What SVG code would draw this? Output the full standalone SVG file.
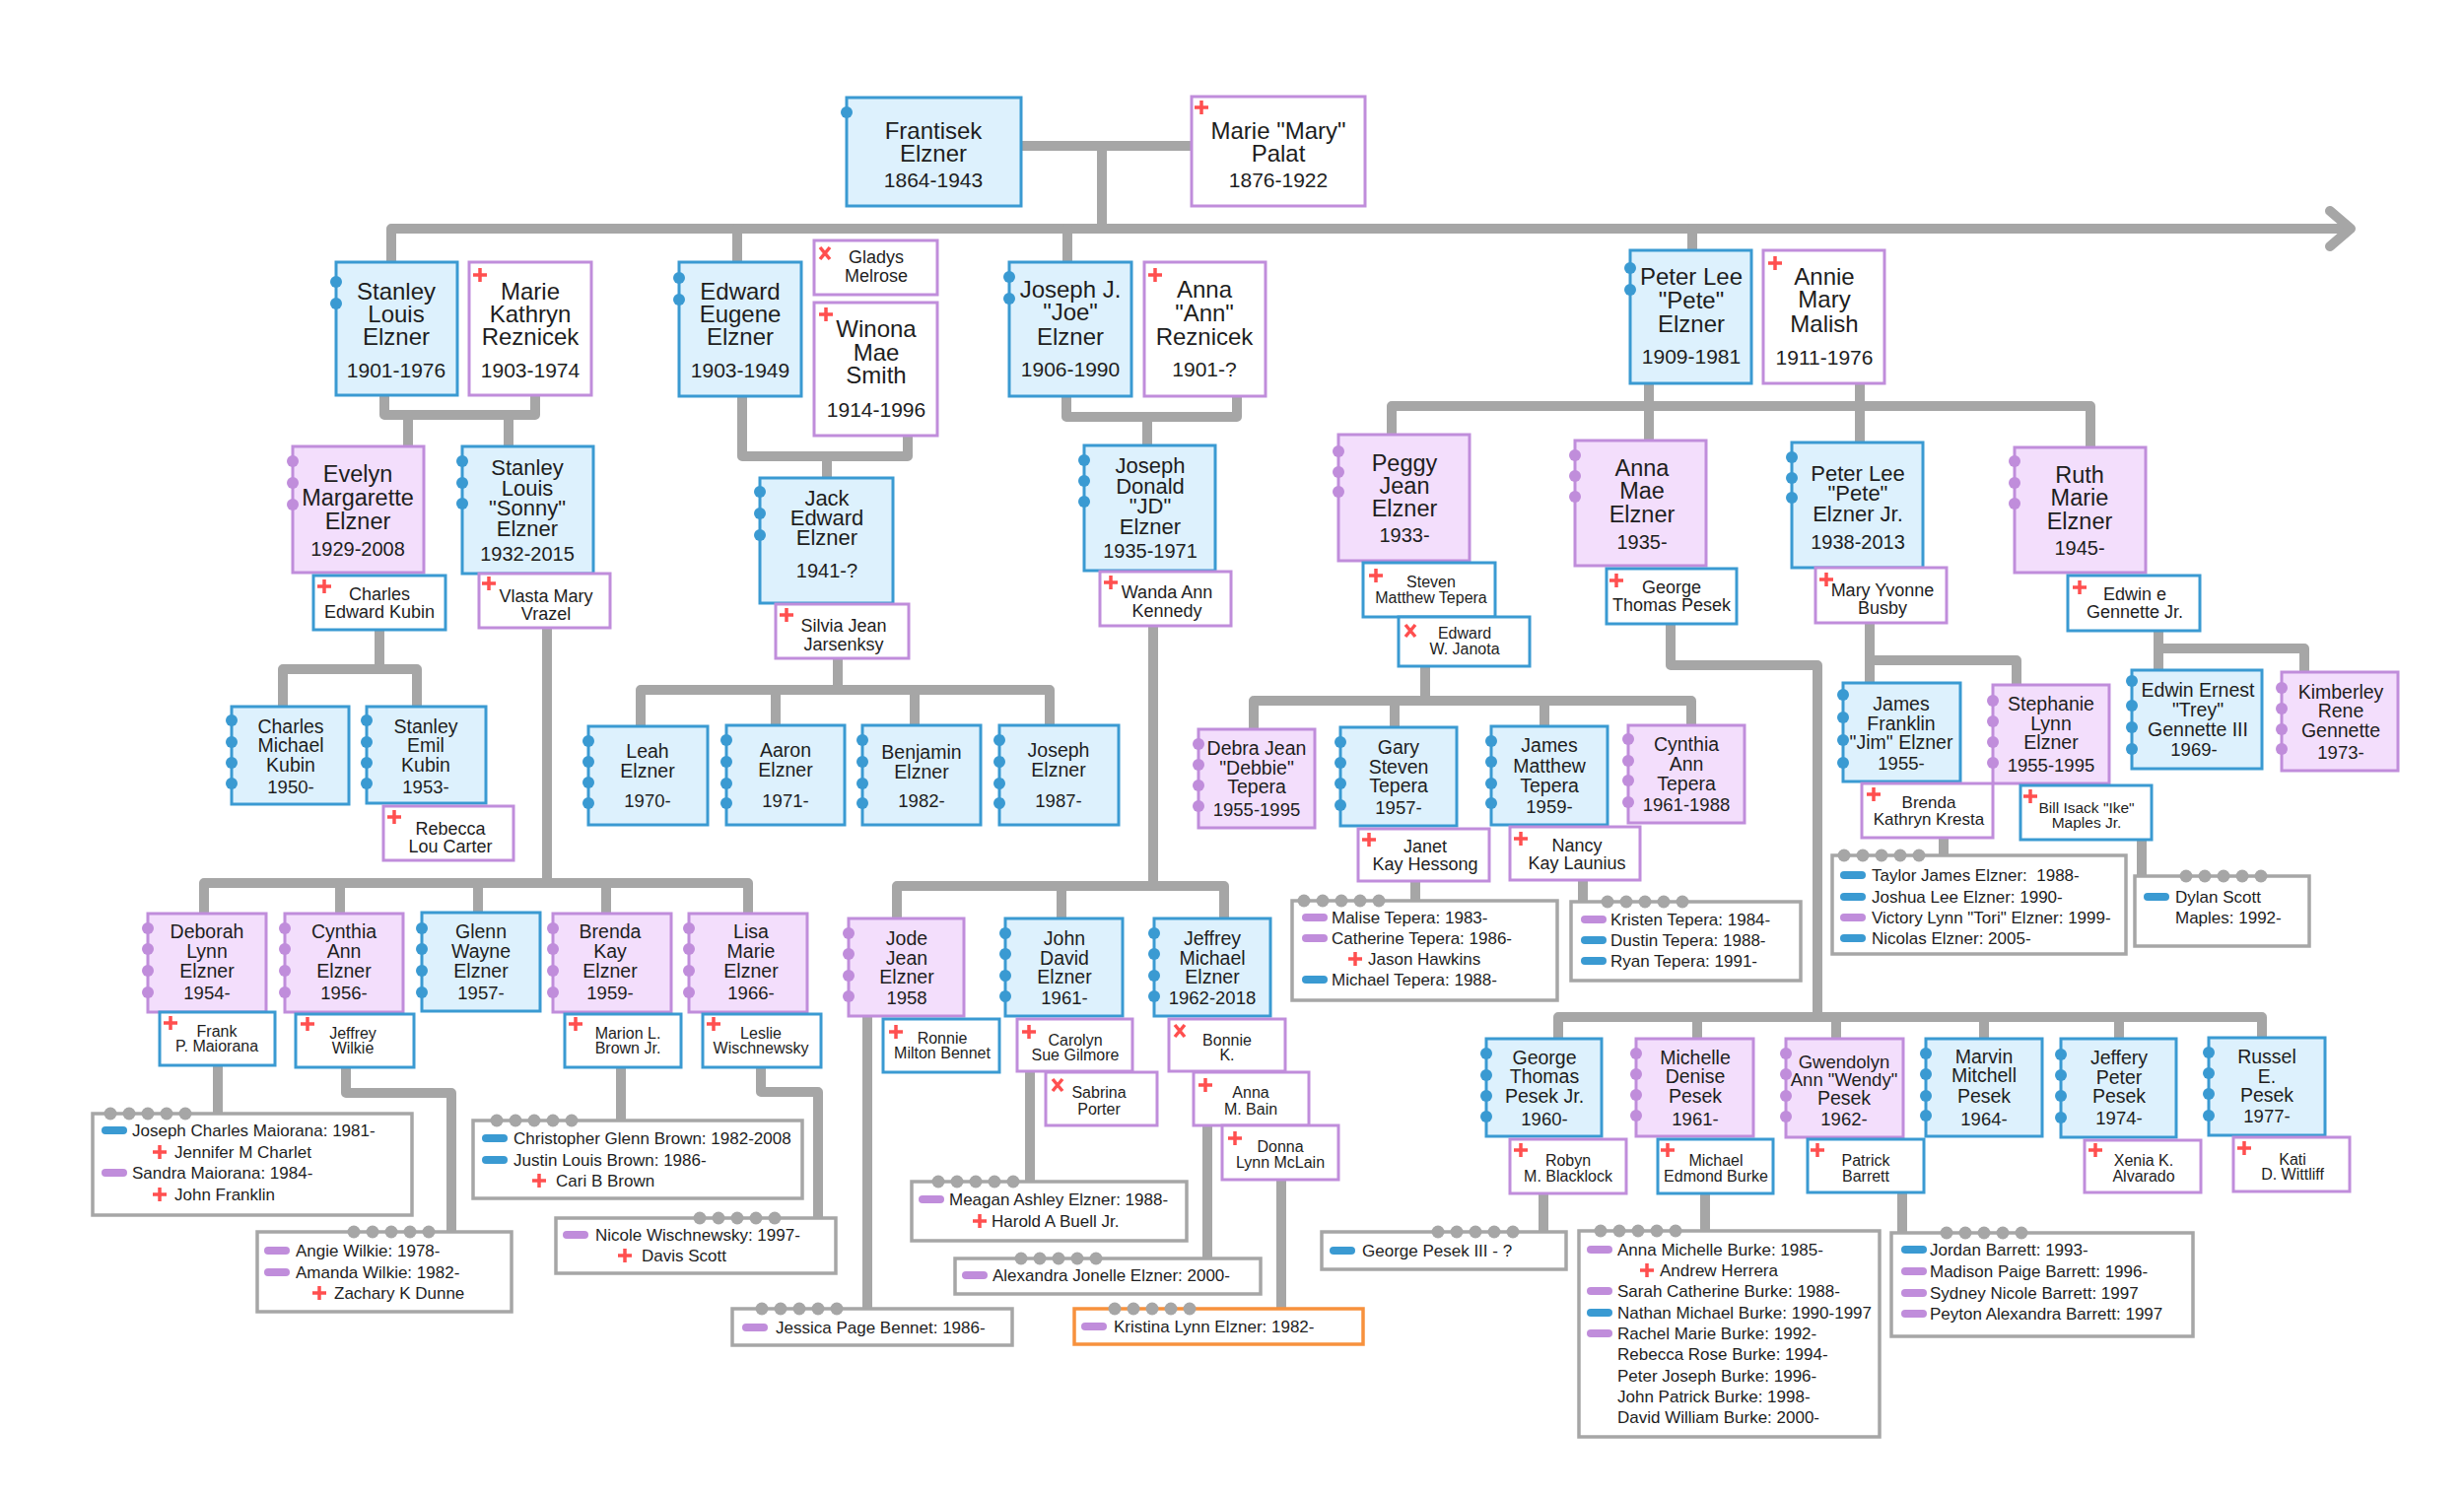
<svg xmlns="http://www.w3.org/2000/svg" width="2500" height="1517" viewBox="0 0 2500 1517">
<defs>
<style>
.m{fill:#ddf1fd;stroke:#3a9ad2;stroke-width:3}
.f{fill:#f3defc;stroke:#c08ddb;stroke-width:3}
.sm{fill:#fff;stroke:#3a9ad2;stroke-width:3}
.sf{fill:#fff;stroke:#c08ddb;stroke-width:3}
.lb{fill:#fff;stroke:#a6a6a6;stroke-width:3.5}
.lo{fill:#fff;stroke:#f7913d;stroke-width:3.5}
.db{fill:#3a9ad2}.dp{fill:#c08ddb}.dg{fill:#a6a6a6}
text{font-family:"Liberation Sans",Arial,sans-serif;fill:#1e1e1e}
.c{text-anchor:middle}
.a{font-size:24px}.ay{font-size:21px}
.b{font-size:23.5px}.b2{font-size:22px}.by{font-size:20px}
.d{font-size:19.5px}.dy{font-size:18.5px}.dg2{font-size:18.5px}
.s18{font-size:18px}.s17{font-size:17px}.s16{font-size:16px}.s15{font-size:15.5px}
.l{font-size:17px}
#conn path,#conn polyline{fill:none;stroke:#a6a6a6;stroke-width:10;stroke-linecap:round;stroke-linejoin:round}
</style>
<path id="pl" d="M-7,0H7M0,-7V7" stroke="#ff4f4f" stroke-width="3.5" fill="none"/>
<path id="xx" d="M-5,-6L5,6M5,-6L-5,6" stroke="#ff4f4f" stroke-width="3.5" fill="none"/>
<rect id="pb" width="26" height="8" rx="4" fill="#3a9ad2"/>
<rect id="pp" width="26" height="8" rx="4" fill="#c08ddb"/>
<g id="g5"><circle cx="0" cy="0" r="6.5" fill="#a6a6a6"/><circle cx="19" cy="0" r="6.5" fill="#a6a6a6"/><circle cx="38" cy="0" r="6.5" fill="#a6a6a6"/><circle cx="57" cy="0" r="6.5" fill="#a6a6a6"/><circle cx="76" cy="0" r="6.5" fill="#a6a6a6"/></g>
</defs>
<rect width="2500" height="1517" fill="#fff"/>

<g id="conn">
<path d="M1035,148H1209M1118,148V232"/>
<path d="M397,266V232H2383"/>
<polyline points="2364,214 2385,232 2364,250"/>
<path d="M748,232V266M1083,232V266M1717,232V254"/>
<path d="M390,401V421H543V401M414,421V453M516,421V453"/>
<path d="M753,402V463H921V442M839,463V484"/>
<path d="M1082,402V423H1255V402M1164,423V452"/>
<path d="M1412,441V412H2121V454M1673,389V447M1887,389V449"/>
<path d="M385,640V679M287,717V679H423V717"/>
<path d="M555,637V896M207,927V896H759V927M345,896V927M485,896V927M615,896V927"/>
<path d="M850,668V700M650,737V700H1065V736M787,700V736M928,700V736"/>
<path d="M1170,635V899M910,932V899H1242V932M1077,899V932"/>
<path d="M1446,676V711M1272,740V711H1716V736M1415,711V738M1567,711V737"/>
<path d="M1695,633V675H1844V1032M1581,1054V1032H2295V1053M1722,1032V1054M1863,1032V1054M2013,1032V1054M2150,1032V1054"/>
<path d="M1897,632V693M1897,670H2046V695"/>
<path d="M2190,640V680M2190,658H2338V682"/>
<path d="M221,1081V1130"/>
<path d="M351,1083V1109H458V1250"/>
<path d="M630,1083V1137"/>
<path d="M772,1083V1108H830V1236"/>
<path d="M880,1031V1328"/>
<path d="M1045,1087V1199"/>
<path d="M1225,1142V1277"/>
<path d="M1300,1197V1328"/>
<path d="M1436,894V914"/>
<path d="M1606,893V915"/>
<path d="M1972,850V868"/>
<path d="M2173,852V889"/>
<path d="M1566,1211V1250"/>
<path d="M1730,1211V1249"/>
<path d="M1930,1210V1251"/>
</g>

<!-- Generation 0 -->
<g id="frantisek"><rect class="m" x="859" y="99" width="177" height="110"/><circle class="db" cx="859" cy="114" r="6"/><text class="c a"><tspan x="947" y="141">Frantisek</tspan><tspan x="947" y="164">Elzner</tspan><tspan class="ay" x="947" y="190">1864-1943</tspan></text></g>
<g id="marie-palat"><rect class="sf" x="1209" y="98" width="176" height="111"/><use href="#pl" x="1219" y="109"/><text class="c a"><tspan x="1297" y="141">Marie "Mary"</tspan><tspan x="1297" y="164">Palat</tspan><tspan class="ay" x="1297" y="190">1876-1922</tspan></text></g>

<!-- Generation 1 -->
<g id="stanley"><rect class="m" x="341" y="266" width="123" height="135"/><circle class="db" cx="341" cy="286" r="6"/><circle class="db" cx="341" cy="308" r="6"/><text class="c a"><tspan x="402" y="304">Stanley</tspan><tspan x="402" y="327">Louis</tspan><tspan x="402" y="350">Elzner</tspan><tspan class="ay" x="402" y="383">1901-1976</tspan></text></g>
<g id="marie-kathryn"><rect class="sf" x="476" y="266" width="124" height="135"/><use href="#pl" x="487" y="279"/><text class="c a"><tspan x="538" y="304">Marie</tspan><tspan x="538" y="327">Kathryn</tspan><tspan x="538" y="350">Reznicek</tspan><tspan class="ay" x="538" y="383">1903-1974</tspan></text></g>
<g id="edward"><rect class="m" x="689" y="266" width="124" height="136"/><circle class="db" cx="689" cy="282" r="6"/><circle class="db" cx="689" cy="304" r="6"/><text class="c a"><tspan x="751" y="304">Edward</tspan><tspan x="751" y="327">Eugene</tspan><tspan x="751" y="350">Elzner</tspan><tspan class="ay" x="751" y="383">1903-1949</tspan></text></g>
<g id="gladys"><rect class="sf" x="826" y="244" width="125" height="55"/><use href="#xx" x="837" y="257"/><text class="c s18"><tspan x="889" y="267">Gladys</tspan><tspan x="889" y="286">Melrose</tspan></text></g>
<g id="winona"><rect class="sf" x="826" y="307" width="125" height="135"/><use href="#pl" x="838" y="319"/><text class="c a"><tspan x="889" y="342">Winona</tspan><tspan x="889" y="366">Mae</tspan><tspan x="889" y="389">Smith</tspan><tspan class="ay" x="889" y="423">1914-1996</tspan></text></g>
<g id="joe"><rect class="m" x="1024" y="266" width="124" height="136"/><circle class="db" cx="1024" cy="281" r="6"/><circle class="db" cx="1024" cy="303" r="6"/><text class="c a"><tspan x="1086" y="302">Joseph J.</tspan><tspan x="1086" y="325">"Joe"</tspan><tspan x="1086" y="350">Elzner</tspan><tspan class="ay" x="1086" y="382">1906-1990</tspan></text></g>
<g id="anna-ann"><rect class="sf" x="1161" y="266" width="123" height="136"/><use href="#pl" x="1172" y="279"/><text class="c a"><tspan x="1222" y="302">Anna</tspan><tspan x="1222" y="326">"Ann"</tspan><tspan x="1222" y="350">Reznicek</tspan><tspan class="ay" x="1222" y="382">1901-?</tspan></text></g>
<g id="peter"><rect class="m" x="1654" y="254" width="123" height="135"/><circle class="db" cx="1654" cy="272" r="6"/><circle class="db" cx="1654" cy="294" r="6"/><text class="c a"><tspan x="1716" y="289">Peter Lee</tspan><tspan x="1716" y="313">"Pete"</tspan><tspan x="1716" y="337">Elzner</tspan><tspan class="ay" x="1716" y="369">1909-1981</tspan></text></g>
<g id="annie"><rect class="sf" x="1789" y="254" width="123" height="135"/><use href="#pl" x="1801" y="267"/><text class="c a"><tspan x="1851" y="289">Annie</tspan><tspan x="1851" y="312">Mary</tspan><tspan x="1851" y="337">Malish</tspan><tspan class="ay" x="1851" y="370">1911-1976</tspan></text></g>

<!-- Generation 2 -->
<g id="evelyn"><rect class="f" x="297" y="453" width="133" height="128"/><circle class="dp" cx="297" cy="468" r="6"/><circle class="dp" cx="297" cy="490" r="6"/><circle class="dp" cx="297" cy="512" r="6"/><text class="c b"><tspan x="363" y="489">Evelyn</tspan><tspan x="363" y="513">Margarette</tspan><tspan x="363" y="537">Elzner</tspan><tspan class="by" x="363" y="564">1929-2008</tspan></text></g>
<g id="sonny"><rect class="m" x="469" y="453" width="133" height="129"/><circle class="db" cx="469" cy="468" r="6"/><circle class="db" cx="469" cy="490" r="6"/><circle class="db" cx="469" cy="511" r="6"/><text class="c b2"><tspan x="535" y="482">Stanley</tspan><tspan x="535" y="503">Louis</tspan><tspan x="535" y="523">"Sonny"</tspan><tspan x="535" y="544">Elzner</tspan><tspan class="by" x="535" y="569">1932-2015</tspan></text></g>
<g id="charles-ek"><rect class="sm" x="318" y="584" width="134" height="55"/><use href="#pl" x="329" y="595"/><text class="c s18"><tspan x="385" y="609">Charles</tspan><tspan x="385" y="627">Edward Kubin</tspan></text></g>
<g id="vlasta"><rect class="sf" x="486" y="582" width="133" height="55"/><use href="#pl" x="496" y="592"/><text class="c s18"><tspan x="554" y="611">Vlasta Mary</tspan><tspan x="554" y="629">Vrazel</tspan></text></g>
<g id="jack"><rect class="m" x="771" y="485" width="135" height="127"/><circle class="db" cx="771" cy="499" r="6"/><circle class="db" cx="771" cy="521" r="6"/><circle class="db" cx="771" cy="543" r="6"/><text class="c b2"><tspan x="839" y="513">Jack</tspan><tspan x="839" y="533">Edward</tspan><tspan x="839" y="553">Elzner</tspan><tspan class="by" x="839" y="586">1941-?</tspan></text></g>
<g id="silvia"><rect class="sf" x="787" y="613" width="135" height="55"/><use href="#pl" x="798" y="624"/><text class="c s18"><tspan x="856" y="641">Silvia Jean</tspan><tspan x="856" y="660">Jarsenksy</tspan></text></g>
<g id="jd"><rect class="m" x="1100" y="452" width="133" height="127"/><circle class="db" cx="1100" cy="467" r="6"/><circle class="db" cx="1100" cy="488" r="6"/><circle class="db" cx="1100" cy="509" r="6"/><text class="c b2"><tspan x="1167" y="480">Joseph</tspan><tspan x="1167" y="501">Donald</tspan><tspan x="1167" y="521">"JD"</tspan><tspan x="1167" y="542">Elzner</tspan><tspan class="by" x="1167" y="566">1935-1971</tspan></text></g>
<g id="wanda"><rect class="sf" x="1116" y="580" width="133" height="55"/><use href="#pl" x="1127" y="591"/><text class="c s18"><tspan x="1184" y="607">Wanda Ann</tspan><tspan x="1184" y="626">Kennedy</tspan></text></g>
<g id="peggy"><rect class="f" x="1358" y="441" width="133" height="128"/><circle class="dp" cx="1358" cy="458" r="6"/><circle class="dp" cx="1358" cy="479" r="6"/><circle class="dp" cx="1358" cy="499" r="6"/><text class="c b"><tspan x="1425" y="478">Peggy</tspan><tspan x="1425" y="501">Jean</tspan><tspan x="1425" y="524">Elzner</tspan><tspan class="by" x="1425" y="550">1933-</tspan></text></g>
<g id="steven"><rect class="sm" x="1383" y="571" width="134" height="55"/><use href="#pl" x="1396" y="584"/><text class="c s16"><tspan x="1452" y="596">Steven</tspan><tspan x="1452" y="612">Matthew Tepera</tspan></text></g>
<g id="janota"><rect class="sm" x="1419" y="626" width="133" height="50"/><use href="#xx" x="1431" y="640"/><text class="c s16"><tspan x="1486" y="648">Edward</tspan><tspan x="1486" y="664">W. Janota</tspan></text></g>
<g id="annamae"><rect class="f" x="1598" y="447" width="133" height="127"/><circle class="dp" cx="1598" cy="462" r="6"/><circle class="dp" cx="1598" cy="483" r="6"/><circle class="dp" cx="1598" cy="504" r="6"/><text class="c b"><tspan x="1666" y="483">Anna</tspan><tspan x="1666" y="506">Mae</tspan><tspan x="1666" y="530">Elzner</tspan><tspan class="by" x="1666" y="557">1935-</tspan></text></g>
<g id="george-tp"><rect class="sm" x="1630" y="577" width="132" height="56"/><use href="#pl" x="1640" y="589"/><text class="c s18"><tspan x="1696" y="602">George</tspan><tspan x="1696" y="620">Thomas Pesek</tspan></text></g>
<g id="peterjr"><rect class="m" x="1818" y="449" width="133" height="127"/><circle class="db" cx="1818" cy="464" r="6"/><circle class="db" cx="1818" cy="485" r="6"/><circle class="db" cx="1818" cy="505" r="6"/><text class="c b2"><tspan x="1885" y="488">Peter Lee</tspan><tspan x="1885" y="508">"Pete"</tspan><tspan x="1885" y="529">Elzner Jr.</tspan><tspan class="by" x="1885" y="557">1938-2013</tspan></text></g>
<g id="busby"><rect class="sf" x="1842" y="576" width="133" height="56"/><use href="#pl" x="1853" y="588"/><text class="c s18"><tspan x="1910" y="605">Mary Yvonne</tspan><tspan x="1910" y="623">Busby</tspan></text></g>
<g id="ruth"><rect class="f" x="2044" y="454" width="133" height="127"/><circle class="dp" cx="2044" cy="468" r="6"/><circle class="dp" cx="2044" cy="490" r="6"/><circle class="dp" cx="2044" cy="511" r="6"/><text class="c b"><tspan x="2110" y="490">Ruth</tspan><tspan x="2110" y="513">Marie</tspan><tspan x="2110" y="537">Elzner</tspan><tspan class="by" x="2110" y="563">1945-</tspan></text></g>
<g id="gennette-jr"><rect class="sm" x="2098" y="584" width="134" height="56"/><use href="#pl" x="2110" y="596"/><text class="c s18"><tspan x="2166" y="609">Edwin e</tspan><tspan x="2166" y="627">Gennette Jr.</tspan></text></g>

<!-- Generation 3 -->
<g id="charles-mk"><rect class="m" x="235" y="717" width="119" height="99"/><circle class="db" cx="235" cy="731" r="6"/><circle class="db" cx="235" cy="753" r="6"/><circle class="db" cx="235" cy="774" r="6"/><circle class="db" cx="235" cy="795" r="6"/><text class="c d"><tspan x="295" y="744">Charles</tspan><tspan x="295" y="763">Michael</tspan><tspan x="295" y="783">Kubin</tspan><tspan class="dy" x="295" y="805">1950-</tspan></text></g>
<g id="stanley-ek"><rect class="m" x="372" y="717" width="121" height="98"/><circle class="db" cx="372" cy="731" r="6"/><circle class="db" cx="372" cy="753" r="6"/><circle class="db" cx="372" cy="774" r="6"/><circle class="db" cx="372" cy="795" r="6"/><text class="c d"><tspan x="432" y="744">Stanley</tspan><tspan x="432" y="763">Emil</tspan><tspan x="432" y="783">Kubin</tspan><tspan class="dy" x="432" y="805">1953-</tspan></text></g>
<g id="rebecca"><rect class="sf" x="389" y="818" width="132" height="55"/><use href="#pl" x="400" y="829"/><text class="c s18"><tspan x="457" y="847">Rebecca</tspan><tspan x="457" y="865">Lou Carter</tspan></text></g>
<g id="leah"><rect class="m" x="597" y="737" width="121" height="100"/><circle class="db" cx="597" cy="752" r="6"/><circle class="db" cx="597" cy="773" r="6"/><circle class="db" cx="597" cy="794" r="6"/><circle class="db" cx="597" cy="815" r="6"/><text class="c d"><tspan x="657" y="769">Leah</tspan><tspan x="657" y="789">Elzner</tspan><tspan class="dy" x="657" y="819">1970-</tspan></text></g>
<g id="aaron"><rect class="m" x="737" y="736" width="120" height="101"/><circle class="db" cx="737" cy="751" r="6"/><circle class="db" cx="737" cy="773" r="6"/><circle class="db" cx="737" cy="795" r="6"/><circle class="db" cx="737" cy="815" r="6"/><text class="c d"><tspan x="797" y="768">Aaron</tspan><tspan x="797" y="788">Elzner</tspan><tspan class="dy" x="797" y="819">1971-</tspan></text></g>
<g id="benjamin"><rect class="m" x="875" y="736" width="120" height="101"/><circle class="db" cx="875" cy="751" r="6"/><circle class="db" cx="875" cy="773" r="6"/><circle class="db" cx="875" cy="795" r="6"/><circle class="db" cx="875" cy="815" r="6"/><text class="c d"><tspan x="935" y="770">Benjamin</tspan><tspan x="935" y="790">Elzner</tspan><tspan class="dy" x="935" y="819">1982-</tspan></text></g>
<g id="joseph-e"><rect class="m" x="1014" y="736" width="121" height="101"/><circle class="db" cx="1014" cy="751" r="6"/><circle class="db" cx="1014" cy="773" r="6"/><circle class="db" cx="1014" cy="795" r="6"/><circle class="db" cx="1014" cy="815" r="6"/><text class="c d"><tspan x="1074" y="768">Joseph</tspan><tspan x="1074" y="788">Elzner</tspan><tspan class="dy" x="1074" y="819">1987-</tspan></text></g>
<g id="deborah"><rect class="f" x="150" y="927" width="120" height="100"/><circle class="dp" cx="150" cy="942" r="6"/><circle class="dp" cx="150" cy="963" r="6"/><circle class="dp" cx="150" cy="985" r="6"/><circle class="dp" cx="150" cy="1007" r="6"/><text class="c d"><tspan x="210" y="952">Deborah</tspan><tspan x="210" y="972">Lynn</tspan><tspan x="210" y="992">Elzner</tspan><tspan class="dy" x="210" y="1014">1954-</tspan></text></g>
<g id="cynthia-e"><rect class="f" x="289" y="927" width="120" height="100"/><circle class="dp" cx="289" cy="942" r="6"/><circle class="dp" cx="289" cy="963" r="6"/><circle class="dp" cx="289" cy="985" r="6"/><circle class="dp" cx="289" cy="1007" r="6"/><text class="c d"><tspan x="349" y="952">Cynthia</tspan><tspan x="349" y="972">Ann</tspan><tspan x="349" y="992">Elzner</tspan><tspan class="dy" x="349" y="1014">1956-</tspan></text></g>
<g id="glenn"><rect class="m" x="428" y="926" width="120" height="100"/><circle class="db" cx="428" cy="942" r="6"/><circle class="db" cx="428" cy="963" r="6"/><circle class="db" cx="428" cy="985" r="6"/><circle class="db" cx="428" cy="1007" r="6"/><text class="c d"><tspan x="488" y="952">Glenn</tspan><tspan x="488" y="972">Wayne</tspan><tspan x="488" y="992">Elzner</tspan><tspan class="dy" x="488" y="1014">1957-</tspan></text></g>
<g id="brenda-k"><rect class="f" x="561" y="927" width="120" height="100"/><circle class="dp" cx="561" cy="942" r="6"/><circle class="dp" cx="561" cy="963" r="6"/><circle class="dp" cx="561" cy="985" r="6"/><circle class="dp" cx="561" cy="1007" r="6"/><text class="c d"><tspan x="619" y="952">Brenda</tspan><tspan x="619" y="972">Kay</tspan><tspan x="619" y="992">Elzner</tspan><tspan class="dy" x="619" y="1014">1959-</tspan></text></g>
<g id="lisa"><rect class="f" x="699" y="927" width="120" height="100"/><circle class="dp" cx="699" cy="942" r="6"/><circle class="dp" cx="699" cy="963" r="6"/><circle class="dp" cx="699" cy="985" r="6"/><circle class="dp" cx="699" cy="1007" r="6"/><text class="c d"><tspan x="762" y="952">Lisa</tspan><tspan x="762" y="972">Marie</tspan><tspan x="762" y="992">Elzner</tspan><tspan class="dy" x="762" y="1014">1966-</tspan></text></g>
<g id="frank"><rect class="sm" x="162" y="1027" width="117" height="54"/><use href="#pl" x="173" y="1038"/><text class="c s16"><tspan x="220" y="1052">Frank</tspan><tspan x="220" y="1067">P. Maiorana</tspan></text></g>
<g id="jeffrey-w"><rect class="sm" x="300" y="1029" width="120" height="54"/><use href="#pl" x="312" y="1039"/><text class="c s16"><tspan x="358" y="1054">Jeffrey</tspan><tspan x="358" y="1069">Wilkie</tspan></text></g>
<g id="marion"><rect class="sm" x="573" y="1029" width="118" height="54"/><use href="#pl" x="584" y="1039"/><text class="c s16"><tspan x="637" y="1054">Marion L.</tspan><tspan x="637" y="1069">Brown Jr.</tspan></text></g>
<g id="leslie"><rect class="sm" x="713" y="1029" width="120" height="54"/><use href="#pl" x="724" y="1039"/><text class="c s16"><tspan x="772" y="1054">Leslie</tspan><tspan x="772" y="1069">Wischnewsky</tspan></text></g>
<g id="jode"><rect class="f" x="861" y="932" width="117" height="99"/><circle class="dp" cx="861" cy="947" r="6"/><circle class="dp" cx="861" cy="968" r="6"/><circle class="dp" cx="861" cy="990" r="6"/><circle class="dp" cx="861" cy="1011" r="6"/><text class="c d"><tspan x="920" y="959">Jode</tspan><tspan x="920" y="979">Jean</tspan><tspan x="920" y="998">Elzner</tspan><tspan class="dy" x="920" y="1019">1958</tspan></text></g>
<g id="john"><rect class="m" x="1020" y="932" width="119" height="99"/><circle class="db" cx="1020" cy="947" r="6"/><circle class="db" cx="1020" cy="968" r="6"/><circle class="db" cx="1020" cy="990" r="6"/><circle class="db" cx="1020" cy="1011" r="6"/><text class="c d"><tspan x="1080" y="959">John</tspan><tspan x="1080" y="979">David</tspan><tspan x="1080" y="998">Elzner</tspan><tspan class="dy" x="1080" y="1019">1961-</tspan></text></g>
<g id="jeffrey-m"><rect class="m" x="1171" y="932" width="118" height="99"/><circle class="db" cx="1171" cy="947" r="6"/><circle class="db" cx="1171" cy="968" r="6"/><circle class="db" cx="1171" cy="990" r="6"/><circle class="db" cx="1171" cy="1011" r="6"/><text class="c d"><tspan x="1230" y="959">Jeffrey</tspan><tspan x="1230" y="979">Michael</tspan><tspan x="1230" y="998">Elzner</tspan><tspan class="dy" x="1230" y="1019">1962-2018</tspan></text></g>
<g id="ronnie"><rect class="sm" x="896" y="1034" width="118" height="54"/><use href="#pl" x="909" y="1047"/><text class="c s16"><tspan x="956" y="1059">Ronnie</tspan><tspan x="956" y="1074">Milton Bennet</tspan></text></g>
<g id="carolyn"><rect class="sf" x="1032" y="1034" width="117" height="53"/><use href="#pl" x="1044" y="1047"/><text class="c s16"><tspan x="1091" y="1061">Carolyn</tspan><tspan x="1091" y="1076">Sue Gilmore</tspan></text></g>
<g id="sabrina"><rect class="sf" x="1061" y="1088" width="113" height="54"/><use href="#xx" x="1073" y="1101"/><text class="c s16"><tspan x="1115" y="1114">Sabrina</tspan><tspan x="1115" y="1131">Porter</tspan></text></g>
<g id="bonnie"><rect class="sf" x="1186" y="1034" width="118" height="53"/><use href="#xx" x="1197" y="1046"/><text class="c s16"><tspan x="1245" y="1061">Bonnie</tspan><tspan x="1245" y="1076">K.</tspan></text></g>
<g id="bain"><rect class="sf" x="1211" y="1088" width="117" height="54"/><use href="#pl" x="1223" y="1101"/><text class="c s16"><tspan x="1269" y="1114">Anna</tspan><tspan x="1269" y="1131">M. Bain</tspan></text></g>
<g id="donna"><rect class="sf" x="1240" y="1142" width="118" height="55"/><use href="#pl" x="1253" y="1155"/><text class="c s16"><tspan x="1299" y="1169">Donna</tspan><tspan x="1299" y="1185">Lynn McLain</tspan></text></g>
<g id="debra"><rect class="f" x="1216" y="740" width="118" height="100"/><circle class="dp" cx="1216" cy="755" r="6"/><circle class="dp" cx="1216" cy="776" r="6"/><circle class="dp" cx="1216" cy="797" r="6"/><circle class="dp" cx="1216" cy="818" r="6"/><text class="c d"><tspan x="1275" y="766">Debra Jean</tspan><tspan x="1275" y="786">"Debbie"</tspan><tspan x="1275" y="805">Tepera</tspan><tspan class="dy" x="1275" y="828">1955-1995</tspan></text></g>
<g id="gary"><rect class="m" x="1360" y="738" width="118" height="100"/><circle class="db" cx="1360" cy="753" r="6"/><circle class="db" cx="1360" cy="774" r="6"/><circle class="db" cx="1360" cy="795" r="6"/><circle class="db" cx="1360" cy="817" r="6"/><text class="c d"><tspan x="1419" y="765">Gary</tspan><tspan x="1419" y="785">Steven</tspan><tspan x="1419" y="804">Tepera</tspan><tspan class="dy" x="1419" y="826">1957-</tspan></text></g>
<g id="james-mt"><rect class="m" x="1513" y="737" width="118" height="100"/><circle class="db" cx="1513" cy="752" r="6"/><circle class="db" cx="1513" cy="773" r="6"/><circle class="db" cx="1513" cy="795" r="6"/><circle class="db" cx="1513" cy="815" r="6"/><text class="c d"><tspan x="1572" y="763">James</tspan><tspan x="1572" y="784">Matthew</tspan><tspan x="1572" y="804">Tepera</tspan><tspan class="dy" x="1572" y="825">1959-</tspan></text></g>
<g id="cynthia-t"><rect class="f" x="1652" y="736" width="118" height="99"/><circle class="dp" cx="1652" cy="750" r="6"/><circle class="dp" cx="1652" cy="772" r="6"/><circle class="dp" cx="1652" cy="792" r="6"/><circle class="dp" cx="1652" cy="814" r="6"/><text class="c d"><tspan x="1711" y="762">Cynthia</tspan><tspan x="1711" y="782">Ann</tspan><tspan x="1711" y="802">Tepera</tspan><tspan class="dy" x="1711" y="823">1961-1988</tspan></text></g>
<g id="janet"><rect class="sf" x="1378" y="841" width="133" height="53"/><use href="#pl" x="1389" y="852"/><text class="c s18"><tspan x="1446" y="865">Janet</tspan><tspan x="1446" y="883">Kay Hessong</tspan></text></g>
<g id="nancy"><rect class="sf" x="1532" y="839" width="132" height="54"/><use href="#pl" x="1543" y="851"/><text class="c s18"><tspan x="1600" y="864">Nancy</tspan><tspan x="1600" y="882">Kay Launius</tspan></text></g>
<g id="james-f"><rect class="m" x="1870" y="693" width="119" height="100"/><circle class="db" cx="1870" cy="705" r="6"/><circle class="db" cx="1870" cy="728" r="6"/><circle class="db" cx="1870" cy="751" r="6"/><circle class="db" cx="1870" cy="774" r="6"/><text class="c d"><tspan x="1929" y="721">James</tspan><tspan x="1929" y="741">Franklin</tspan><tspan x="1929" y="760">"Jim" Elzner</tspan><tspan class="dy" x="1929" y="781">1955-</tspan></text></g>
<g id="stephanie"><rect class="f" x="2022" y="695" width="118" height="100"/><circle class="dp" cx="2022" cy="711" r="6"/><circle class="dp" cx="2022" cy="732" r="6"/><circle class="dp" cx="2022" cy="753" r="6"/><circle class="dp" cx="2022" cy="774" r="6"/><text class="c d"><tspan x="2081" y="721">Stephanie</tspan><tspan x="2081" y="741">Lynn</tspan><tspan x="2081" y="760">Elzner</tspan><tspan class="dy" x="2081" y="783">1955-1995</tspan></text></g>
<g id="brenda-kk"><rect class="sf" x="1889" y="795" width="133" height="55"/><use href="#pl" x="1901" y="806"/><text class="c s17"><tspan x="1957" y="820">Brenda</tspan><tspan x="1957" y="837">Kathryn Kresta</tspan></text></g>
<g id="bill"><rect class="sm" x="2050" y="797" width="133" height="55"/><use href="#pl" x="2060" y="808"/><text class="c s15"><tspan x="2117" y="825">Bill Isack "Ike"</tspan><tspan x="2117" y="840">Maples Jr.</tspan></text></g>
<g id="edwin-e"><rect class="m" x="2163" y="680" width="132" height="100"/><circle class="db" cx="2163" cy="691" r="6"/><circle class="db" cx="2163" cy="716" r="6"/><circle class="db" cx="2163" cy="738" r="6"/><circle class="db" cx="2163" cy="760" r="6"/><text class="c d"><tspan x="2230" y="707">Edwin Ernest</tspan><tspan x="2230" y="727">"Trey"</tspan><tspan x="2230" y="747">Gennette III</tspan><tspan class="dy" x="2226" y="767">1969-</tspan></text></g>
<g id="kimberley"><rect class="f" x="2315" y="682" width="118" height="100"/><circle class="dp" cx="2315" cy="698" r="6"/><circle class="dp" cx="2315" cy="719" r="6"/><circle class="dp" cx="2315" cy="740" r="6"/><circle class="dp" cx="2315" cy="760" r="6"/><text class="c d"><tspan x="2375" y="709">Kimberley</tspan><tspan x="2375" y="728">Rene</tspan><tspan x="2375" y="748">Gennette</tspan><tspan class="dy" x="2375" y="770">1973-</tspan></text></g>
<g id="george-jr"><rect class="m" x="1508" y="1054" width="117" height="99"/><circle class="db" cx="1508" cy="1069" r="6"/><circle class="db" cx="1508" cy="1091" r="6"/><circle class="db" cx="1508" cy="1112" r="6"/><circle class="db" cx="1508" cy="1133" r="6"/><text class="c d"><tspan x="1567" y="1080">George</tspan><tspan x="1567" y="1099">Thomas</tspan><tspan x="1567" y="1119">Pesek Jr.</tspan><tspan class="dy" x="1567" y="1142">1960-</tspan></text></g>
<g id="michelle"><rect class="f" x="1660" y="1054" width="119" height="99"/><circle class="dp" cx="1660" cy="1069" r="6"/><circle class="dp" cx="1660" cy="1090" r="6"/><circle class="dp" cx="1660" cy="1111" r="6"/><circle class="dp" cx="1660" cy="1132" r="6"/><text class="c d"><tspan x="1720" y="1080">Michelle</tspan><tspan x="1720" y="1099">Denise</tspan><tspan x="1720" y="1119">Pesek</tspan><tspan class="dy" x="1720" y="1142">1961-</tspan></text></g>
<g id="gwendolyn"><rect class="f" x="1812" y="1054" width="119" height="100"/><circle class="dp" cx="1812" cy="1069" r="6"/><circle class="dp" cx="1812" cy="1090" r="6"/><circle class="dp" cx="1812" cy="1112" r="6"/><circle class="dp" cx="1812" cy="1133" r="6"/><text class="c dg2"><tspan x="1871" y="1084">Gwendolyn</tspan><tspan x="1871" y="1102">Ann "Wendy"</tspan><tspan class="d" x="1871" y="1121">Pesek</tspan><tspan x="1871" y="1142">1962-</tspan></text></g>
<g id="marvin"><rect class="m" x="1954" y="1054" width="118" height="99"/><circle class="db" cx="1954" cy="1069" r="6"/><circle class="db" cx="1954" cy="1090" r="6"/><circle class="db" cx="1954" cy="1112" r="6"/><circle class="db" cx="1954" cy="1132" r="6"/><text class="c d"><tspan x="2013" y="1079">Marvin</tspan><tspan x="2013" y="1098">Mitchell</tspan><tspan x="2013" y="1119">Pesek</tspan><tspan class="dy" x="2013" y="1142">1964-</tspan></text></g>
<g id="jeffery-p"><rect class="m" x="2091" y="1054" width="117" height="100"/><circle class="db" cx="2091" cy="1070" r="6"/><circle class="db" cx="2091" cy="1091" r="6"/><circle class="db" cx="2091" cy="1112" r="6"/><circle class="db" cx="2091" cy="1134" r="6"/><text class="c d"><tspan x="2150" y="1080">Jeffery</tspan><tspan x="2150" y="1100">Peter</tspan><tspan x="2150" y="1119">Pesek</tspan><tspan class="dy" x="2150" y="1141">1974-</tspan></text></g>
<g id="russel"><rect class="m" x="2241" y="1053" width="118" height="99"/><circle class="db" cx="2241" cy="1068" r="6"/><circle class="db" cx="2241" cy="1089" r="6"/><circle class="db" cx="2241" cy="1110" r="6"/><circle class="db" cx="2241" cy="1132" r="6"/><text class="c d"><tspan x="2300" y="1079">Russel</tspan><tspan x="2300" y="1099">E.</tspan><tspan x="2300" y="1118">Pesek</tspan><tspan class="dy" x="2300" y="1139">1977-</tspan></text></g>
<g id="robyn"><rect class="sf" x="1532" y="1156" width="118" height="55"/><use href="#pl" x="1543" y="1167"/><text class="c s16"><tspan x="1591" y="1183">Robyn</tspan><tspan x="1591" y="1199">M. Blacklock</tspan></text></g>
<g id="michael-b"><rect class="sm" x="1682" y="1156" width="117" height="55"/><use href="#pl" x="1692" y="1167"/><text class="c s16"><tspan x="1741" y="1183">Michael</tspan><tspan x="1741" y="1199">Edmond Burke</tspan></text></g>
<g id="patrick"><rect class="sm" x="1834" y="1156" width="118" height="54"/><use href="#pl" x="1844" y="1167"/><text class="c s16"><tspan x="1893" y="1183">Patrick</tspan><tspan x="1893" y="1199">Barrett</tspan></text></g>
<g id="xenia"><rect class="sf" x="2115" y="1157" width="118" height="53"/><use href="#pl" x="2126" y="1167"/><text class="c s16"><tspan x="2175" y="1183">Xenia K.</tspan><tspan x="2175" y="1199">Alvarado</tspan></text></g>
<g id="kati"><rect class="sf" x="2266" y="1154" width="118" height="55"/><use href="#pl" x="2277" y="1165"/><text class="c s16"><tspan x="2326" y="1182">Kati</tspan><tspan x="2326" y="1197">D. Wittliff</tspan></text></g>

<!-- Generation 4 lists -->
<g id="list-maiorana"><rect class="lb" x="94" y="1130" width="324" height="103"/><use href="#g5" x="112" y="1130"/>
<use href="#pb" x="103" y="1143"/><use href="#pl" x="162" y="1169"/><use href="#pp" x="103" y="1186"/><use href="#pl" x="162" y="1212"/>
<text class="l"><tspan x="134" y="1153">Joseph Charles Maiorana: 1981-</tspan><tspan x="177" y="1175">Jennifer M Charlet</tspan><tspan x="134" y="1196">Sandra Maiorana: 1984-</tspan><tspan x="177" y="1218">John Franklin</tspan></text></g>
<g id="list-wilkie"><rect class="lb" x="261" y="1250" width="258" height="81"/><use href="#g5" x="359" y="1250"/>
<use href="#pp" x="268" y="1265"/><use href="#pp" x="268" y="1287"/><use href="#pl" x="324" y="1312"/>
<text class="l"><tspan x="300" y="1275">Angie Wilkie: 1978-</tspan><tspan x="300" y="1297">Amanda Wilkie: 1982-</tspan><tspan x="339" y="1318">Zachary K Dunne</tspan></text></g>
<g id="list-brown"><rect class="lb" x="480" y="1137" width="334" height="79"/><use href="#g5" x="504" y="1137"/>
<use href="#pb" x="489" y="1151"/><use href="#pb" x="489" y="1173"/><use href="#pl" x="547" y="1198"/>
<text class="l"><tspan x="521" y="1161">Christopher Glenn Brown: 1982-2008</tspan><tspan x="521" y="1183">Justin Louis Brown: 1986-</tspan><tspan x="564" y="1204">Cari B Brown</tspan></text></g>
<g id="list-wischnewsky"><rect class="lb" x="564" y="1236" width="284" height="56"/><use href="#g5" x="710" y="1236"/>
<use href="#pp" x="571" y="1249"/><use href="#pl" x="634" y="1274"/>
<text class="l"><tspan x="604" y="1259">Nicole Wischnewsky: 1997-</tspan><tspan x="651" y="1280">Davis Scott</tspan></text></g>
<g id="list-jessica"><rect class="lb" x="743" y="1328" width="284" height="37"/><use href="#g5" x="773" y="1328"/>
<use href="#pp" x="753" y="1343"/><text class="l" x="787" y="1353">Jessica Page Bennet: 1986-</text></g>
<g id="list-meagan"><rect class="lb" x="925" y="1199" width="279" height="60"/><use href="#g5" x="952" y="1199"/>
<use href="#pp" x="932" y="1213"/><use href="#pl" x="994" y="1239"/>
<text class="l"><tspan x="963" y="1223">Meagan Ashley Elzner: 1988-</tspan><tspan x="1006" y="1245">Harold A Buell Jr.</tspan></text></g>
<g id="list-alexandra"><rect class="lb" x="969" y="1277" width="310" height="36"/><use href="#g5" x="1036" y="1277"/>
<use href="#pp" x="976" y="1290"/><text class="l" x="1007" y="1300">Alexandra Jonelle Elzner: 2000-</text></g>
<g id="list-kristina"><rect class="lo" x="1090" y="1328" width="293" height="36"/><use href="#g5" x="1131" y="1328"/>
<use href="#pp" x="1097" y="1342"/><text class="l" x="1130" y="1352">Kristina Lynn Elzner: 1982-</text></g>
<g id="list-malise"><rect class="lb" x="1311" y="914" width="269" height="101"/><use href="#g5" x="1323" y="914"/>
<use href="#pp" x="1321" y="927"/><use href="#pp" x="1321" y="948"/><use href="#pl" x="1375" y="973"/><use href="#pb" x="1321" y="990"/>
<text class="l"><tspan x="1351" y="937">Malise Tepera: 1983-</tspan><tspan x="1351" y="958">Catherine Tepera: 1986-</tspan><tspan x="1388" y="979">Jason Hawkins</tspan><tspan x="1351" y="1000">Michael Tepera: 1988-</tspan></text></g>
<g id="list-kristen"><rect class="lb" x="1594" y="915" width="233" height="80"/><use href="#g5" x="1631" y="915"/>
<use href="#pp" x="1604" y="929"/><use href="#pb" x="1604" y="950"/><use href="#pb" x="1604" y="971"/>
<text class="l"><tspan x="1634" y="939">Kristen Tepera: 1984-</tspan><tspan x="1634" y="960">Dustin Tepera: 1988-</tspan><tspan x="1634" y="981">Ryan Tepera: 1991-</tspan></text></g>
<g id="list-taylor"><rect class="lb" x="1859" y="868" width="298" height="100"/><use href="#g5" x="1871" y="868"/>
<use href="#pb" x="1867" y="884"/><use href="#pb" x="1867" y="906"/><use href="#pp" x="1867" y="927"/><use href="#pb" x="1867" y="948"/>
<text class="l"><tspan x="1899" y="894">Taylor James Elzner:&#160; 1988-</tspan><tspan x="1899" y="916">Joshua Lee Elzner: 1990-</tspan><tspan x="1899" y="937">Victory Lynn "Tori" Elzner: 1999-</tspan><tspan x="1899" y="958">Nicolas Elzner: 2005-</tspan></text></g>
<g id="list-dylan"><rect class="lb" x="2166" y="889" width="177" height="71"/><use href="#g5" x="2218" y="889"/>
<use href="#pb" x="2175" y="906"/><text class="l"><tspan x="2207" y="916">Dylan Scott</tspan><tspan x="2207" y="937">Maples: 1992-</tspan></text></g>
<g id="list-george3"><rect class="lb" x="1341" y="1250" width="248" height="38"/><use href="#g5" x="1459" y="1250"/>
<use href="#pb" x="1349" y="1265"/><text class="l" x="1382" y="1275">George Pesek III - ?</text></g>
<g id="list-burke"><rect class="lb" x="1602" y="1249" width="305" height="209"/><use href="#g5" x="1624" y="1249"/>
<use href="#pp" x="1610" y="1264"/><use href="#pl" x="1671" y="1289"/><use href="#pp" x="1610" y="1306"/><use href="#pb" x="1610" y="1328"/><use href="#pp" x="1610" y="1349"/>
<text class="l"><tspan x="1641" y="1274">Anna Michelle Burke: 1985-</tspan><tspan x="1684" y="1295">Andrew Herrera</tspan><tspan x="1641" y="1316">Sarah Catherine Burke: 1988-</tspan><tspan x="1641" y="1338">Nathan Michael Burke: 1990-1997</tspan><tspan x="1641" y="1359">Rachel Marie Burke: 1992-</tspan><tspan x="1641" y="1380">Rebecca Rose Burke: 1994-</tspan><tspan x="1641" y="1402">Peter Joseph Burke: 1996-</tspan><tspan x="1641" y="1423">John Patrick Burke: 1998-</tspan><tspan x="1641" y="1444">David William Burke: 2000-</tspan></text></g>
<g id="list-barrett"><rect class="lb" x="1919" y="1251" width="306" height="105"/><use href="#g5" x="1975" y="1251"/>
<use href="#pb" x="1929" y="1264"/><use href="#pp" x="1929" y="1286"/><use href="#pp" x="1929" y="1308"/><use href="#pp" x="1929" y="1329"/>
<text class="l"><tspan x="1958" y="1274">Jordan Barrett: 1993-</tspan><tspan x="1958" y="1296">Madison Paige Barrett: 1996-</tspan><tspan x="1958" y="1318">Sydney Nicole Barrett: 1997</tspan><tspan x="1958" y="1339">Peyton Alexandra Barrett: 1997</tspan></text></g>
</svg>
